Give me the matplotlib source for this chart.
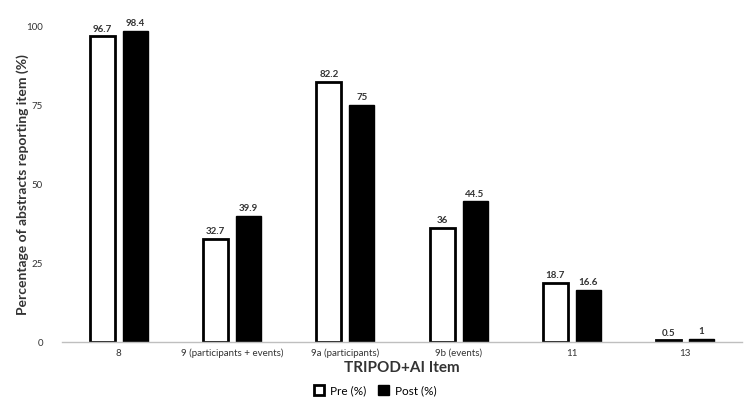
import matplotlib
matplotlib.use("Agg")
import matplotlib.pyplot as plt
import numpy as np
from matplotlib.patches import Patch

categories = ["8", "9 (participants + events)", "9a (participants)", "9b (events)", "11", "13"]
pre = [96.7, 32.7, 82.2, 36, 18.7, 0.5]
post = [98.4, 39.9, 75, 44.5, 16.6, 1]
pre_labels = ["96.7", "32.7", "82.2", "36", "18.7", "0.5"]
post_labels = ["98.4", "39.9", "75", "44.5", "16.6", "1"]
yticks = [0, 25, 50, 75, 100]

plt.rcParams['font.family'] = ['Lato', 'DejaVu Sans']

fig = plt.figure(figsize=(7.5, 4.14), dpi=100)
ax = fig.add_axes([0.083, 0.1715, 0.906, 0.7635])

x = np.arange(len(categories))
w = 0.22
off = 0.145
ax.bar(x - off, pre, w, facecolor='white', edgecolor='black', linewidth=2)
ax.bar(x + off, post, w, facecolor='black', edgecolor='black', linewidth=1)

for xi, v, t in zip(x - off, pre, pre_labels):
    ax.text(xi, v + 1.2, t, ha='center', va='bottom', fontsize=7, fontweight='bold', color='#333333')
for xi, v, t in zip(x + off, post, post_labels):
    ax.text(xi, v + 1.2, t, ha='center', va='bottom', fontsize=7, fontweight='bold', color='#333333')

ax.set_xlim(-0.5, len(categories) - 0.5)
ax.set_ylim(0, 100)
ax.set_yticks(yticks)
ax.set_xticks(x)
ax.set_xticklabels(categories, fontsize=7, color='#333333')
ax.tick_params(axis='y', length=0, labelsize=7, labelcolor='#333333', pad=14)
ax.tick_params(axis='x', length=0, pad=4)
for s in ['top', 'right', 'left']:
    ax.spines[s].set_visible(False)
ax.spines['bottom'].set_color('#bfbfbf')
ax.spines['bottom'].set_linewidth(1)

ax.set_ylabel("Percentage of abstracts reporting item (%)", fontsize=10, fontweight='bold', color='#333333', labelpad=-2)
ax.set_xlabel("TRIPOD+AI Item", fontsize=11, fontweight='bold', color='#333333', labelpad=2)

handles = [Patch(facecolor='white', edgecolor='black', linewidth=2, label='Pre (%)'),
           Patch(facecolor='black', edgecolor='black', label='Post (%)')]
fig.legend(handles=handles, loc='center', bbox_to_anchor=(0.5, 0.055), ncol=2, frameon=False,
           fontsize=8.5, handlelength=0.9, handleheight=0.9, columnspacing=1.0, handletextpad=0.5)

fig.savefig("out.png", dpi=100, facecolor='white')
